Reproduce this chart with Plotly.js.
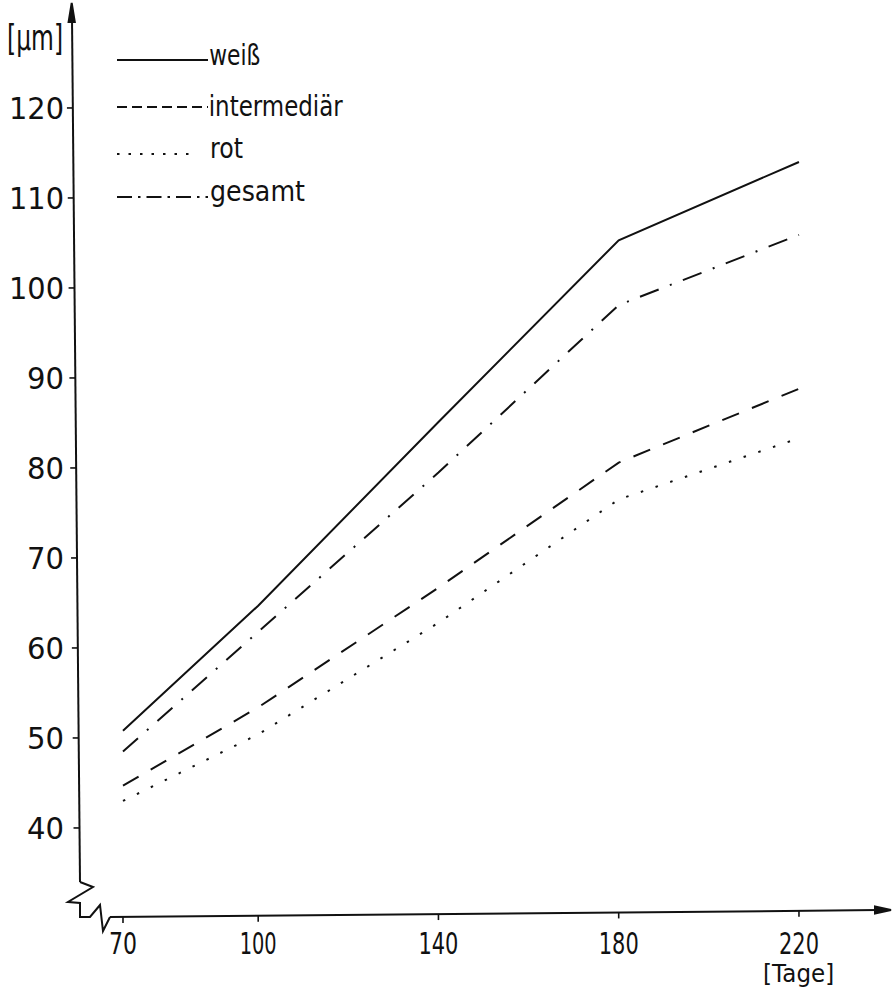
<!DOCTYPE html>
<html>
<head>
<meta charset="utf-8">
<script src="https://cdn.plot.ly/plotly-3.0.1.min.js"></script>
<style>html,body{margin:0;padding:0;background:#fff;}#chart{width:892px;height:987px;}</style>
</head>
<body>
<div id="chart"></div>
<script>
// ---- data ----
const days = [70, 100, 140, 180, 220];
const weiss = [50.8, 64.7, 85.1, 105.3, 114.0];
const intermediaer = [44.7, 53.4, 66.7, 80.6, 88.8];
const rot = [43.0, 50.4, 62.8, 76.5, 83.3];
const gesamt = [48.5, 61.8, 79.5, 98.1, 105.9];
const seriesNames = ['weiß', 'intermediär', 'rot', 'gesamt'];
const xTickVals = [70, 100, 140, 180, 220];
const xTickText = ['70', '100', '140', '180', '220'];
const yTickVals = [40, 50, 60, 70, 80, 90, 100, 110, 120];
const yTickText = ['40', '50', '60', '70', '80', '90', '100', '110', '120'];
const yUnit = '[µm]';
const xUnit = '[Tage]';

// ---- layout geometry ----
const WT = 892, HT = 987;
const M = {l: 75, r: 2, t: 5, b: 73};
const PW = WT - M.l - M.r, PH = HT - M.t - M.b;
const xr = [59.35, 240.2], yr = [30.44, 131.44];
const px = v => (v - M.l) / PW;            // pixel x -> paper
const py = v => (HT - M.b - v) / PH;       // pixel y -> paper
const xPix = d => M.l + (d - xr[0]) / (xr[1] - xr[0]) * PW;
const yPix = v => M.t + (yr[1] - v) / (yr[1] - yr[0]) * PH;

const ink = '#111';
const font = 'DejaVu Sans, sans-serif';

const series = [weiss, intermediaer, rot, gesamt];
const dashes = ['solid', '18px,14px', '2.5px,13px', '20px,12px,2px,12px'];
const legDashes = ['solid', '10px,5px', '2.5px,9px', '15px,6px,2.5px,6px'];

const traces = series.map((s, i) => ({
  type: 'scatter', mode: 'lines', x: days, y: s, name: seriesNames[i],
  line: {color: ink, width: 2, dash: dashes[i]}, hoverinfo: 'x+y+name'
}));

const shapes = [];
const ln = (x0, y0, x1, y1, w) => shapes.push({type: 'line', xref: 'paper', yref: 'paper',
  x0: px(x0), y0: py(y0), x1: px(x1), y1: py(y1), line: {color: ink, width: w || 2}});
const poly = (pts, fill) => {
  let d = pts.map((p, k) => (k ? 'L' : 'M') + px(p[0]) + ',' + py(p[1])).join(' ');
  if (fill) d += ' Z';
  shapes.push({type: 'path', xref: 'paper', yref: 'paper', path: d,
    line: {color: ink, width: 2}, fillcolor: fill ? ink : 'rgba(0,0,0,0)'});
};

// y axis (slightly slanted, hand drawn) with arrow
const yAx = yy => 72 + 8 * (yy - 5) / 877;
ln(72, 18, 80, 882);
poly([[71.7, 3], [68.6, 22], [74.8, 22]], true);
// axis break zigzag
poly([[80, 882], [93, 887], [68, 902], [80, 903], [80, 917], [90, 917], [100, 905], [103, 931], [110, 917]], false);
// x axis with arrow
const xAx = xx => 917 - 7 * (xx - 110) / 780;
ln(110, 917, 878, xAx(878));
poly([[891, 910], [875, 906.5], [875, 913.5]], true);

// tick marks
yTickVals.forEach(v => { const yy = yPix(v); const a = yAx(yy); ln(a - 6, yy, a, yy, 1.6); });
xTickVals.forEach(d => { const xx = xPix(d); const a = xAx(xx); ln(xx, a, xx, a + 6, 1.6); });

// legend samples + labels
const legY = [60, 107, 154, 197];
const legX1 = [208, 208, 190, 208];
const legTextLeft = [209, 209, 210, 210];
const legTextW = [51, 134, 33, 95];
const legTextMid = [55, 106, 148, 191];
const annotations = [];
const fitW = {};
seriesNames.forEach((n, i) => {
  shapes.push({type: 'line', xref: 'paper', yref: 'paper', x0: px(117), x1: px(legX1[i]),
    y0: py(legY[i]), y1: py(legY[i]), line: {color: ink, width: 2, dash: legDashes[i]}});
  annotations.push({xref: 'paper', yref: 'paper', x: px(legTextLeft[i] + legTextW[i] / 2), y: py(legTextMid[i]),
    xanchor: 'center', yanchor: 'middle', text: n, showarrow: false,
    font: {family: font, size: 28, color: ink}});
  fitW[n] = legTextW[i];
});
annotations.push({xref: 'paper', yref: 'paper', x: px(35), y: py(37), xanchor: 'center', yanchor: 'middle',
  text: yUnit, showarrow: false, font: {family: font, size: 36, color: ink}});
fitW[yUnit] = 56;
annotations.push({xref: 'paper', yref: 'paper', x: px(798), y: py(974), xanchor: 'center', yanchor: 'middle',
  text: xUnit, showarrow: false, font: {family: font, size: 25, color: ink}});
fitW[xUnit] = 71;

const xTickW = {'70': 28, '100': 37, '140': 40, '180': 40, '220': 40};

const layout = {
  width: WT, height: HT, margin: M, showlegend: false,
  paper_bgcolor: '#fff', plot_bgcolor: '#fff',
  xaxis: {range: xr, tickvals: xTickVals, ticktext: xTickText, ticks: '', showline: false,
    showgrid: false, zeroline: false, ticklabelstandoff: 8,
    tickfont: {family: font, size: 31, color: ink}},
  yaxis: {range: yr, tickvals: yTickVals, ticktext: yTickText, ticks: '', showline: false,
    showgrid: false, zeroline: false, ticklabelstandoff: 10,
    tickfont: {family: font, size: 31, color: ink}},
  shapes: shapes, annotations: annotations
};

function condense(el, w) {
  el.setAttribute('textLength', w);
  el.setAttribute('lengthAdjust', 'spacingAndGlyphs');
}

Plotly.newPlot('chart', traces, layout, {displayModeBar: false, staticPlot: true}).then(gd => {
  gd.querySelectorAll('.annotation-text').forEach(t => {
    const w = fitW[t.textContent];
    if (w) condense(t, w);
  });
  gd.querySelectorAll('.xtick text').forEach(t => {
    const w = xTickW[t.textContent];
    if (w) condense(t, w);
  });
  gd.querySelectorAll('.ytick text').forEach(t => {
    condense(t, t.textContent.length === 3 ? 55 : 37);
  });
});
</script>
</body>
</html>
